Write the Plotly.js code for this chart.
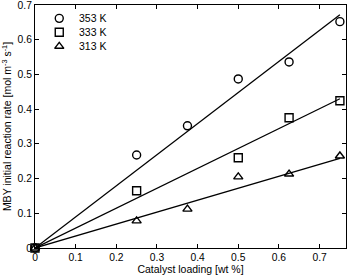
<!DOCTYPE html>
<html><head><meta charset="utf-8">
<script src="https://cdn.plot.ly/plotly-3.0.1.min.js"></script>
<style>html,body{margin:0;padding:0;background:#fff;}#c{width:347px;height:277px;}</style>
</head><body><div id="c"></div>
<script>
const loading = [0, 0.25, 0.375, 0.5, 0.625, 0.75];
const rate353 = [0, 0.268, 0.352, 0.487, 0.536, 0.652];
const loading333 = [0, 0.25, 0.5, 0.625, 0.75];
const rate333 = [0, 0.165, 0.260, 0.375, 0.424];
const rate313 = [0, 0.078, 0.112, 0.205, 0.213, 0.265];
const fitX = [0, 0.75];
const fit353 = [0, 0.672];
const fit333 = [0, 0.430];
const fit313 = [0, 0.258];
const xTicks = [0, 0.1, 0.2, 0.3, 0.4, 0.5, 0.6, 0.7];
const yTicks = [0, 0.1, 0.2, 0.3, 0.4, 0.5, 0.6, 0.7];
const xTickText = ['0', '0.1', '0.2', '0.3', '0.4', '0.5', '0.6', '0.7'];
const yTickText = ['0', '0.1', '0.2', '0.3', '0.4', '0.5', '0.6', '0.7'];
const names = ['353 K', '333 K', '313 K'];
const symbols = ['circle-open', 'square-open', 'triangle-up-open'];
</script>
<script>
const mk = (sym) => ({symbol: sym, size: 8, color: '#000', line: {color: '#000', width: 1.4}});
const lineStyle = {color: '#000', width: 1.3};
const traces = [
  {x: fitX, y: fit353, mode: 'lines', line: lineStyle, showlegend: false, hoverinfo: 'skip'},
  {x: fitX, y: fit333, mode: 'lines', line: lineStyle, showlegend: false, hoverinfo: 'skip'},
  {x: fitX, y: fit313, mode: 'lines', line: lineStyle, showlegend: false, hoverinfo: 'skip'},
  {x: loading, y: rate353, mode: 'markers', name: names[0], marker: mk(symbols[0]), cliponaxis: false, showlegend: false},
  {x: loading333, y: rate333, mode: 'markers', name: names[1], marker: mk(symbols[1]), cliponaxis: false, showlegend: false},
  {x: loading, y: rate313, mode: 'markers', name: names[2], marker: mk(symbols[2]), cliponaxis: false, showlegend: false}
];
// legend drawn on a hidden overlay axis (0..1 coordinates)
const legY = [0.945, 0.888, 0.830];
const legX = 0.078;
names.forEach((n, i) => {
  traces.push({x: [legX], y: [legY[i]], xaxis: 'x2', yaxis: 'y2', mode: 'markers',
    marker: mk(symbols[i]), showlegend: false, hoverinfo: 'skip', cliponaxis: false});
});
const fam = 'Liberation Sans, Arial, sans-serif';
const font = {family: fam, size: 10.5, color: '#000'};
const tickFont = {family: fam, size: 10.3, color: '#000'};
const axisBase = {
  showgrid: false, zeroline: false, showline: true, linecolor: '#000', linewidth: 1,
  mirror: 'ticks', ticks: 'inside', ticklen: 4, tickcolor: '#000', tickfont: tickFont,
  ticklabeloverflow: 'allow'
};
const annotations = names.map((n, i) => ({
  xref: 'paper', yref: 'paper', x: 0.135, y: legY[i], xanchor: 'left', yanchor: 'middle',
  text: n, showarrow: false, font: font
}));
const layout = {
  width: 347, height: 277,
  margin: {l: 35, r: 1, t: 5, b: 29},
  paper_bgcolor: '#fff', plot_bgcolor: '#fff',
  font: font,
  showlegend: false,
  annotations: annotations,
  xaxis: Object.assign({}, axisBase, {
    range: [0, 0.765], tickvals: xTicks, ticktext: xTickText,
    title: {text: 'Catalyst loading [wt %]', font: font, standoff: 2}
  }),
  yaxis: Object.assign({}, axisBase, {
    range: [0, 0.7], tickvals: yTicks, ticktext: yTickText,
    title: {text: 'MBY initial reaction rate [mol m<sup>-3</sup> s<sup>-1</sup>]', font: font, standoff: 4}
  }),
  xaxis2: {overlaying: 'x', range: [0, 1], visible: false, fixedrange: true},
  yaxis2: {overlaying: 'y', range: [0, 1], visible: false, fixedrange: true}
};
Plotly.newPlot('c', traces, layout, {staticPlot: true, displayModeBar: false});
</script>
</body></html>
